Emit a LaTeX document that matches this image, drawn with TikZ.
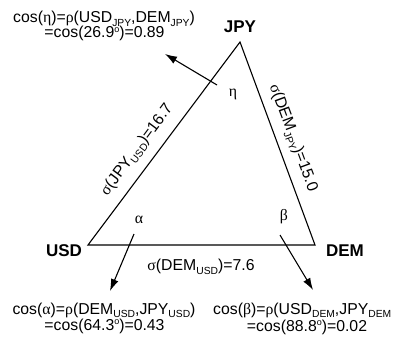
\documentclass[tikz,border=0pt]{standalone}
\usepackage{fontspec}
\usetikzlibrary{arrows.meta}
\setmainfont{Liberation Sans}
\newfontfamily\gr{Liberation Serif}
\newcommand{\sbs}[1]{\raisebox{-0.22em}{\fontsize{10.3}{11}\selectfont #1}}
\newcommand{\dg}{\raisebox{0.36em}{\fontsize{9}{10}\selectfont o}}
\begin{document}
\begin{tikzpicture}[x=1pt,y=-1pt,
  lbl/.style={font=\fontsize{15.8}{15}\selectfont, inner sep=0pt},
  vtx/.style={font=\bfseries\fontsize{17}{18}\selectfont, inner sep=0pt},
  edge/.style={line width=1.1pt},
  arr/.style={line width=1.1pt,-{Latex[length=12pt,width=8pt]}}]
\useasboundingbox (0,0) rectangle (398,339);
\coordinate (J) at (240,42);
\coordinate (U) at (88,245);
\coordinate (D) at (315,245);
\draw[edge] (J) -- (U) -- (D) -- cycle;
\node[vtx] (jpy) at (240,27) {JPY};
\node[vtx] (usd) at (64,251) {USD};
\node[vtx] (dem) at (345,251) {DEM};
\node[lbl] (eta) at (233,94) {\gr η};
\node[lbl] (alpha) at (139,220) {\gr α};
\node[lbl] (beta) at (284,217) {\gr β};
\node[lbl,rotate=53.2] (sl) at (137,150) {{\gr σ}(JPY\sbs{USD})=16.7};
\node[lbl,rotate=-69.7] (sr) at (293,138) {{\gr σ}(DEM\sbs{JPY})=15.0};
\node[lbl] (sb) at (201,267) {{\gr σ}(DEM\sbs{USD})=7.6};
\node[lbl,anchor=base] (te1) at (104,23) {cos({\gr η})={\gr ρ}(USD\sbs{JPY},DEM\sbs{JPY})};
\node[lbl,anchor=base] (te2) at (104.5,38) {=cos(26.9\dg)=0.89};
\node[lbl,anchor=base] (ta1) at (104,314) {cos({\gr α})={\gr ρ}(DEM\sbs{USD},JPY\sbs{USD})};
\node[lbl,anchor=base] (ta2) at (104.5,330.5) {=cos(64.3\dg)=0.43};
\node[lbl,anchor=base west] (tb1) at (213,314.5) {cos({\gr β})={\gr ρ}(USD\sbs{DEM},JPY\sbs{DEM}};
\node[lbl,anchor=base] (tb2) at (307,331) {=cos(88.8\dg)=0.02};
\coordinate (e0) at (217,85);
\coordinate (e1) at (165,54);
\coordinate (a0) at (134,234);
\coordinate (a1) at (110,291);
\coordinate (b0) at (280,235);
\coordinate (b1) at (313,290);
\draw[arr] (e0) -- (e1);
\draw[arr] (a0) -- (a1);
\draw[arr] (b0) -- (b1);
\end{tikzpicture}
\end{document}
